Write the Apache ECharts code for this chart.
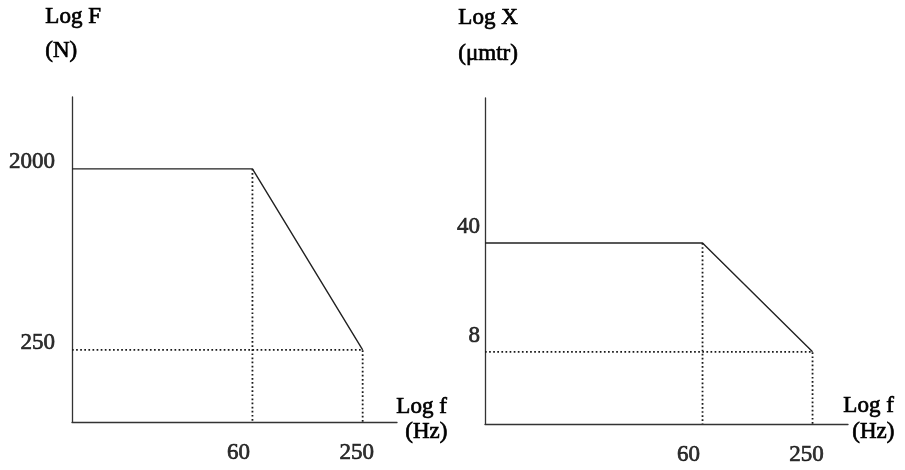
<!DOCTYPE html>
<html>
<head>
<meta charset="utf-8">
<title>Force and displacement spectra</title>
<script src="https://cdn.jsdelivr.net/npm/echarts@6/dist/echarts.min.js"></script>
<style>
  html, body { margin: 0; padding: 0; background: #fff; }
  #chart { width: 905px; height: 470px; }
</style>
</head>
<body>
<div id="chart"></div>
<script>
// Frequency break points (Hz)
const freqTicks = [60, 250];
const freqLabels = ['60', '250'];

// Force spectrum (N): flat level, then roll-off to the upper frequency
const forceLevels = [2000, 250];
const forceLabels = ['2000', '250'];

// Displacement spectrum (µm): flat level, then roll-off to the upper frequency
const dispLevels = [40, 8];
const dispLabels = ['40', '8'];

// Log-axis ranges for the two panels
const forceXRange = [5.8, 390];
const forceYRange = [109, 4570];
const dispXRange = [3.57, 396];
const dispYRange = [2.75, 342];

const FONT = '"Liberation Serif", "Times New Roman", serif';
const INK = '#000000';
const SIZE = 23;
// Regular serif with a thin outline in the same ink, for a heavy print look
const inkText = { fontFamily: FONT, fontSize: SIZE, fontWeight: 'normal', textBorderColor: INK, textBorderWidth: 0.7 };

function panelSeries(idx, xr, yr, levels, yLabels, yLabelOffset) {
  const [fLo, fHi] = freqTicks;
  const [hi, lo] = levels;
  const solid = {
    type: 'line', xAxisIndex: idx, yAxisIndex: idx, symbol: 'none', silent: true,
    lineStyle: { color: '#222', width: 1.4 },
    data: [[xr[0], hi], [fLo, hi], [fHi, lo]]
  };
  const dotStyle = { color: '#1a1a1a', width: 1.8, type: [1.7, 2.4] };
  const dropLo = {
    type: 'line', xAxisIndex: idx, yAxisIndex: idx, symbol: 'none', silent: true,
    lineStyle: dotStyle, data: [[fLo, hi], [fLo, yr[0]]]
  };
  const levelLo = {
    type: 'line', xAxisIndex: idx, yAxisIndex: idx, symbol: 'none', silent: true,
    lineStyle: dotStyle, data: [[xr[0], lo], [fHi, lo], [fHi, yr[0]]]
  };
  // Tick labels along the frequency axis
  const xTicks = {
    type: 'scatter', xAxisIndex: idx, yAxisIndex: idx, symbolSize: 0, silent: true,
    data: freqTicks.map((f, i) => ({
      value: [f, yr[0]],
      label: Object.assign({
        show: true, position: 'bottom', distance: 19,
        offset: [i === 0 ? -14 : -6, 0],
        formatter: freqLabels[i], color: INK
      }, inkText)
    }))
  };
  // Tick labels along the amplitude axis
  const yTicks = {
    type: 'scatter', xAxisIndex: idx, yAxisIndex: idx, symbolSize: 0, silent: true,
    data: levels.map((v, i) => ({
      value: [xr[0], v],
      label: Object.assign({
        show: true, position: 'left', distance: yLabelOffset[0],
        offset: [0, yLabelOffset[1]],
        formatter: yLabels[i], color: INK
      }, inkText)
    }))
  };
  return [solid, dropLo, levelLo, xTicks, yTicks];
}

function axisPair(idx, xr, yr) {
  const line = { show: true, onZero: false, lineStyle: { color: '#333', width: 1.3 } };
  return {
    x: {
      type: 'log', gridIndex: idx, min: xr[0], max: xr[1],
      axisLine: line, axisTick: { show: false }, axisLabel: { show: false },
      splitLine: { show: false }
    },
    y: {
      type: 'log', gridIndex: idx, min: yr[0], max: yr[1],
      axisLine: line, axisTick: { show: false }, axisLabel: { show: false },
      splitLine: { show: false }
    }
  };
}

const left = axisPair(0, forceXRange, forceYRange);
const right = axisPair(1, dispXRange, dispYRange);

const captionStyle = {
  fontFamily: FONT, fontSize: SIZE, fontWeight: 'normal', fill: INK,
  stroke: INK, lineWidth: 0.7
};
function caption(x, y, text) {
  return { type: 'text', left: x, top: y, silent: true, style: Object.assign({ text }, captionStyle) };
}

const option = {
  animation: false,
  backgroundColor: '#ffffff',
  grid: [
    { left: 72, top: 97, width: 325, height: 325 },
    { left: 485, top: 98, width: 363, height: 326 }
  ],
  xAxis: [left.x, right.x],
  yAxis: [left.y, right.y],
  series: [
    ...panelSeries(0, forceXRange, forceYRange, forceLevels, forceLabels, [17, -7]),
    ...panelSeries(1, dispXRange, dispYRange, dispLevels, dispLabels, [5, -16])
  ],
  graphic: [
    caption(45, 5, 'Log F'),
    caption(45, 39, '(N)'),
    caption(458, 6, 'Log X'),
    caption(458, 42, '(μmtr)'),
    caption(396, 395, 'Log f'),
    caption(405, 420, '(Hz)'),
    caption(843, 394, 'Log f'),
    caption(852, 420, '(Hz)')
  ]
};

const chart = echarts.init(document.getElementById('chart'), null, { renderer: 'canvas' });
chart.setOption(option);
</script>
</body>
</html>
